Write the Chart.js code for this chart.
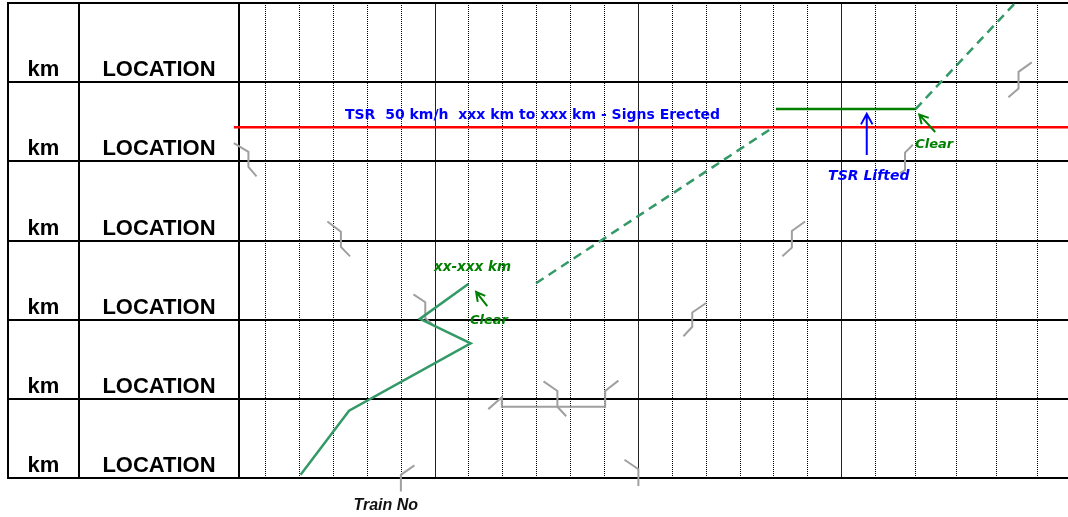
<!DOCTYPE html>
<html>
<head>
<meta charset="utf-8">
<script src="https://cdn.jsdelivr.net/npm/chart.js@4.4.1/dist/chart.umd.min.js"></script>
<style>
  html, body { margin: 0; padding: 0; background: #fff; }
  #wrap { width: 1068px; height: 517px; position: relative; }
</style>
</head>
<body>
<div id="wrap"><canvas id="graph"></canvas></div>
<script>
// rows from bottom (y = 0) to top (y = 6)
const kmLabels = ["km", "km", "km", "km", "km", "km"];
const locationLabels = ["LOCATION", "LOCATION", "LOCATION", "LOCATION", "LOCATION", "LOCATION"];

// time axis, 10 = one dotted step
const minorTicks = [0, 10, 20, 30, 40, 60, 70, 80, 90, 100, 120, 130, 140, 150, 160, 180, 191.8, 203.8, 215.8, 227.8];
const majorTicks = [50, 110, 170];

// train run
const trainRun = [{x: 10.3, y: 0.04}, {x: 24.6, y: 0.85}, {x: 60.5, y: 1.70}, {x: 45.5, y: 2.01}, {x: 59.8, y: 2.45}];
const trainPlanLow = [{x: 79.8, y: 2.46}, {x: 149.8, y: 4.43}];
const tsrSection = [{x: 150.6, y: 4.66}, {x: 191.8, y: 4.66}];
const trainPlanHigh = [{x: 191.8, y: 4.66}, {x: 221.2, y: 6.0}];
const tsrBoard = [{x: -9.4, y: 4.43}, {x: 236.8, y: 4.43}];

// signals (grey)
const signals = [
  [{x: -9.4, y: 4.23}, {x: -5.1, y: 4.12}, {x: -5.1, y: 3.93}, {x: -2.7, y: 3.81}],
  [{x: 18.2, y: 3.24}, {x: 22.2, y: 3.11}, {x: 22.2, y: 2.92}, {x: 24.9, y: 2.80}],
  [{x: 43.6, y: 2.32}, {x: 47.1, y: 2.22}, {x: 47.1, y: 2.02}, {x: 49.2, y: 1.94}],
  [{x: 159.2, y: 3.24}, {x: 155.3, y: 3.12}, {x: 155.3, y: 2.91}, {x: 152.5, y: 2.80}],
  [{x: 130.0, y: 2.21}, {x: 125.9, y: 2.09}, {x: 125.9, y: 1.91}, {x: 123.3, y: 1.79}],
  [{x: 191.0, y: 4.21}, {x: 188.7, y: 4.11}, {x: 188.7, y: 3.89}, {x: 187.2, y: 3.85}],
  [{x: 226.1, y: 5.25}, {x: 222.2, y: 5.13}, {x: 222.2, y: 4.92}, {x: 219.2, y: 4.81}],
  [{x: 65.7, y: 0.87}, {x: 69.7, y: 1.02}, {x: 69.7, y: 0.90}, {x: 100.2, y: 0.90}, {x: 100.2, y: 1.10}, {x: 104.1, y: 1.23}],
  [{x: 82.0, y: 1.22}, {x: 86.1, y: 1.10}, {x: 86.1, y: 0.90}, {x: 88.7, y: 0.78}],
  [{x: 39.9, y: -0.17}, {x: 39.9, y: 0.04}, {x: 43.9, y: 0.16}],
  [{x: 105.9, y: 0.23}, {x: 110.0, y: 0.11}, {x: 110.0, y: -0.10}]
];

// arrows: from -> to (head at "to")
const arrowFrom = [{x: 177.4, y: 4.08}, {x: 197.6, y: 4.37}, {x: 65.4, y: 2.17}];
const arrowTo = [{x: 177.4, y: 4.60}, {x: 192.9, y: 4.59}, {x: 62.1, y: 2.35}];
const arrowColors = ["#0000ff", "#008000", "#008000"];

// notes, anchored at left / baseline
const noteTexts = ["TSR  50 km/h  xxx km to xxx km - Signs Erected", "TSR Lifted", "Clear", "Clear", "xx-xxx km", "Train No"];
const noteAt = [{x: 23.4, y: 4.54}, {x: 166.0, y: 3.76}, {x: 191.7, y: 4.17}, {x: 60.3, y: 1.95}, {x: 49.7, y: 2.62}, {x: 25.9, y: -0.40}];
const noteColors = ["#0000ff", "#0000ff", "#008000", "#008000", "#008000", "#111"];
const noteFonts = [
  "bold 14px 'DejaVu Sans'",
  "italic bold 14px 'DejaVu Sans'",
  "italic bold 13px 'DejaVu Sans'",
  "italic bold 13px 'DejaVu Sans'",
  "italic bold 13.5px 'DejaVu Sans'",
  "italic bold 16px 'Liberation Sans'"
];

const SEA = "#339966";
const KM_COL = 71;

const line = (data, color, width, dash, clip) => ({
  data, borderColor: color, borderWidth: width, borderDash: dash || [],
  pointRadius: 0, tension: 0, fill: false, clip: clip ? false : undefined
});

const datasets = [
  line(trainRun, SEA, 2.5),
  line(trainPlanLow, SEA, 2.5, [9, 6]),
  line(trainPlanHigh, SEA, 2.5, [9, 6], true),
  line(tsrSection, "#008000", 2.5),
  ...signals.map(s => line(s, "#a0a0a0", 2, null, true)),
  line(tsrBoard, "#ff0000", 2.5, null, true)
];

// left table (km / LOCATION) plus arrows and notes
const sheetPlugin = {
  id: "sheet",
  afterDatasetsDraw(chart) {
    const { ctx, scales: { x, y } } = chart;
    const top = y.getPixelForValue(6), bottom = y.getPixelForValue(0);
    const left = y.left, divider = y.left + KM_COL;
    ctx.save();
    ctx.strokeStyle = "#000";
    ctx.lineWidth = 2;
    [left, divider].forEach(px => {
      ctx.beginPath();
      ctx.moveTo(px, top - 1);
      ctx.lineTo(px, bottom + 1);
      ctx.stroke();
    });
    ctx.fillStyle = "#000";
    ctx.font = "bold 22px 'Liberation Sans', Arial, sans-serif";
    ctx.textAlign = "center";
    ctx.textBaseline = "alphabetic";
    kmLabels.forEach((t, i) => {
      const base = y.getPixelForValue(i) - 6;
      ctx.fillText(t, (left + divider) / 2, base);
      ctx.fillText(locationLabels[i], (divider + y.right) / 2, base);
    });

    // arrows
    arrowFrom.forEach((f, i) => {
      const x1 = x.getPixelForValue(f.x), y1 = y.getPixelForValue(f.y);
      const x2 = x.getPixelForValue(arrowTo[i].x), y2 = y.getPixelForValue(arrowTo[i].y);
      const a = Math.atan2(y2 - y1, x2 - x1);
      const head = i === 0 ? 12 : 10;
      ctx.strokeStyle = arrowColors[i];
      ctx.lineWidth = 2;
      ctx.beginPath();
      ctx.moveTo(x1, y1);
      ctx.lineTo(x2, y2);
      ctx.moveTo(x2 - head * Math.cos(a - 0.5), y2 - head * Math.sin(a - 0.5));
      ctx.lineTo(x2, y2);
      ctx.lineTo(x2 - head * Math.cos(a + 0.5), y2 - head * Math.sin(a + 0.5));
      ctx.stroke();
    });

    // notes
    ctx.textAlign = "left";
    noteTexts.forEach((t, i) => {
      ctx.font = noteFonts[i];
      ctx.fillStyle = noteColors[i];
      ctx.fillText(t, x.getPixelForValue(noteAt[i].x), y.getPixelForValue(noteAt[i].y));
    });
    ctx.restore();
  }
};

const isMajor = c => c.tick && majorTicks.includes(c.tick.value);

new Chart(document.getElementById("graph"), {
  type: "line",
  data: { datasets },
  options: {
    responsive: true,
    maintainAspectRatio: false,
    animation: false,
    layout: { padding: { left: 8, top: 3, right: 0, bottom: 39 } },
    plugins: { legend: { display: false }, tooltip: { enabled: false } },
    scales: {
      x: {
        type: "linear",
        min: -7.88,
        max: 236.8,
        afterBuildTicks: s => { s.ticks = [...minorTicks, ...majorTicks].map(v => ({ value: v })); },
        ticks: { display: false },
        grid: { color: c => isMajor(c) ? "#222" : "#000", lineWidth: 1, drawTicks: false },
        border: { display: false, dash: c => isMajor(c) ? [] : [1, 1] }
      },
      y: {
        type: "linear",
        min: 0,
        max: 6,
        afterBuildTicks: s => { s.ticks = kmLabels.concat("").map((_, i) => ({ value: i })); },
        afterFit: s => { s.width = 231; },
        ticks: { display: false },
        grid: { color: "#000", lineWidth: 2, drawTicks: true, tickLength: 231 },
        border: { display: true, color: "#000", width: 2 }
      }
    }
  },
  plugins: [sheetPlugin]
});
</script>
</body>
</html>
